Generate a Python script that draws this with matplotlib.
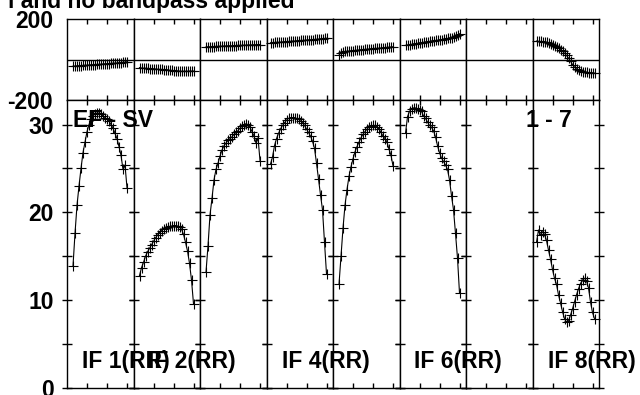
import matplotlib
matplotlib.use("Agg")
import matplotlib.pyplot as plt
import numpy as np

plt.rcParams['font.family'] = ['Liberation Sans', 'DejaVu Sans']
plt.rcParams['font.weight'] = 'bold'

# ---------------- data ----------------
if_names = ["IF 1(RR)", "IF 2(RR)", "IF 3(RR)", "IF 4(RR)",
            "IF 5(RR)", "IF 6(RR)", "IF 7(RR)", "IF 8(RR)"]
shown_labels = [0, 1, 3, 5, 7]
baseline_label = "EF - SV"
stokes_label = "1 - 7"
title_text = "l and no bandpass applied"

ch_if1 = list(range(3, 31))
amp_if1 = [13.9, 17.6, 20.8, 23.0, 25.0, 26.8, 28.0, 29.2, 30.0, 30.6, 31.0, 31.2, 31.3, 31.3,
           31.2, 31.0, 30.8, 30.6, 30.4, 30.0, 29.6, 29.0, 28.4, 27.5, 26.5, 24.9, 25.4, 22.8]
ph_if1 = [-33, -32, -31, -31, -30, -29, -28, -28, -27, -26, -26, -25, -24, -24,
          -23, -22, -21, -21, -20, -19, -18, -18, -17, -16, -15, -14, -13, -11]

ch_if2 = list(range(3, 31))
amp_if2 = [12.8, 13.7, 14.3, 15.0, 15.5, 15.9, 16.3, 16.7, 17.1, 17.4, 17.7, 17.9, 18.1, 18.2,
           18.3, 18.4, 18.45, 18.5, 18.5, 18.45, 18.3, 18.1, 17.5, 16.6, 15.6, 14.2, 12.3, 9.6]
ph_if2 = [-40, -42, -43, -43, -44, -45, -46, -46, -47, -48, -49, -49, -50, -51,
          -52, -53, -54, -55, -56, -57, -57, -58, -58, -58, -58, -57, -57, -57]

ch_if3 = list(range(3, 31))
amp_if3 = [13.2, 16.2, 19.7, 21.6, 23.7, 24.9, 25.6, 26.4, 27.1, 27.6, 27.9, 28.2, 28.4, 28.6,
           28.9, 29.1, 29.3, 29.6, 29.8, 30.0, 30.1, 30.0, 29.7, 29.2, 28.7, 27.9, 28.5, 25.9]
ph_if3 = [62, 63, 63, 64, 64, 65, 65, 66, 66, 67, 67, 68, 68, 68,
          69, 69, 70, 70, 70, 71, 71, 72, 72, 72, 73, 73, 74, 74]

ch_if4 = list(range(2, 31))
amp_if4 = [25.5, 26.3, 27.6, 28.4, 29.0, 29.5, 29.9, 30.2, 30.5, 30.7, 30.8, 30.8, 30.8, 30.7,
           30.6, 30.4, 30.2, 29.9, 29.5, 29.1, 28.7, 28.1, 27.3, 25.6, 23.8, 22.0, 20.3, 16.6, 13.0]
ph_if4 = [82, 83, 84, 85, 85, 86, 87, 88, 88, 89, 90, 91, 91, 92, 93,
          94, 94, 95, 96, 97, 97, 98, 99, 100, 101, 102, 103, 104, 105]

ch_if5 = list(range(3, 31))
amp_if5 = [11.8, 15.0, 18.2, 20.8, 22.6, 24.1, 25.2, 26.1, 26.9, 27.5, 28.0, 28.5, 28.9, 29.2,
           29.5, 29.7, 29.8, 29.9, 29.9, 29.7, 29.5, 29.1, 28.7, 28.4, 28.0, 27.2, 26.5, 25.3]
ph_if5 = [22, 32, 38, 40, 41, 42, 43, 44, 45, 46, 47, 48, 49, 50,
          51, 52, 53, 54, 55, 55, 56, 57, 58, 59, 60, 61, 62, 63]

ch_if6 = list(range(3, 31))
amp_if6 = [29.0, 30.9, 31.5, 31.8, 31.9, 31.9, 31.8, 31.7, 31.5, 31.0, 30.7, 30.3, 29.9, 29.7,
           29.3, 28.6, 27.6, 26.8, 26.2, 25.8, 25.4, 24.9, 23.7, 21.9, 20.3, 17.6, 14.8, 10.8]
ph_if6 = [70, 71, 73, 75, 77, 78, 80, 82, 83, 85, 86, 88, 89, 91,
          92, 94, 95, 97, 98, 100, 102, 104, 106, 108, 111, 115, 120, 127]

ch_if7 = []
amp_if7 = []
ph_if7 = []

ch_if8 = list(range(2, 32))
amp_if8 = [16.6, 18.0, 17.4, 17.8, 17.5, 16.8, 15.7, 14.7, 13.5, 12.5, 11.8, 10.6, 9.7, 8.7, 7.9,
           7.5, 7.6, 8.3, 9.0, 9.8, 10.6, 11.3, 11.9, 12.3, 12.5, 12.2, 11.4, 9.8, 8.6, 7.9]
ph_if8 = [91, 90, 89, 88, 86, 84, 81, 78, 74, 69, 63, 56, 48, 40, 31,
          20, 7, -8, -25, -38, -47, -53, -57, -60, -62, -64, -65, -66, -66, -67]

channels = [ch_if1, ch_if2, ch_if3, ch_if4, ch_if5, ch_if6, ch_if7, ch_if8]
amps = [amp_if1, amp_if2, amp_if3, amp_if4, amp_if5, amp_if6, amp_if7, amp_if8]
phases = [ph_if1, ph_if2, ph_if3, ph_if4, ph_if5, ph_if6, ph_if7, ph_if8]

amp_ticks = [0, 5, 10, 15, 20, 25, 30]
amp_ticklabels = ["0", "", "10", "", "20", "", "30"]
phase_ticks = [-200, 200]
phase_ticklabels = ["-200", "200"]
chan_ticks = [10, 20, 30]

# ---------------- figure ----------------
W, H = 640, 395
fig = plt.figure(figsize=(W / 100, H / 100), dpi=100)
L, R, T, B = 67, 599, 19, 388
gs = fig.add_gridspec(2, 8, left=L / W, right=R / W, top=1 - T / H, bottom=1 - B / H,
                      wspace=0, hspace=0, height_ratios=[81, 288])

XMIN, XMAX = 0, 33.25
for i in range(8):
    axp = fig.add_subplot(gs[0, i])
    axa = fig.add_subplot(gs[1, i])
    for ax in (axp, axa):
        ax.set_xlim(XMIN, XMAX)
        ax.set_xticks(chan_ticks)
        ax.set_xticklabels([])
        for s in ax.spines.values():
            s.set_linewidth(1.0)
            s.set_color('black')
    axp.set_ylim(-200, 200)
    axa.set_ylim(0, 32.8)
    axp.axhline(0, color='black', lw=1.0)

    axp.tick_params(axis='x', which='both', top=True, bottom=True, direction='in',
                    length=3.5, width=1)
    axa.tick_params(axis='x', which='both', top=True, bottom=True, direction='in',
                    length=3.5, width=1)
    axa.tick_params(axis='y', left=True, right=True, direction='inout', length=7, width=1)
    axa.set_yticks(amp_ticks)
    axp.set_yticks(phase_ticks)
    axp.tick_params(axis='y', left=False, right=False, length=0)
    if i == 0:
        axa.set_yticklabels(amp_ticklabels, fontsize=16.5, fontweight='bold')
        axa.tick_params(axis='y', pad=6)
        axp.set_yticklabels(phase_ticklabels, fontsize=16.5, fontweight='bold')
        axp.tick_params(axis='y', pad=10)
    else:
        axa.set_yticklabels([])
        axp.set_yticklabels([])

    if channels[i]:
        axa.plot(channels[i], amps[i], color='black', lw=0.8, marker='+',
                 markersize=6.5, markeredgewidth=0.8, clip_on=False)
        axp.plot(channels[i], phases[i], color='black', lw=0.8, marker='+',
                 markersize=6.5, markeredgewidth=0.8, clip_on=False)

# ---------------- text ----------------
def px(x, y):
    return x / W, 1 - y / H

panel_w = (R - L) / 8
for i in shown_labels:
    fig.text(*px(L + i * panel_w + 15, 368), if_names[i], fontsize=16.5,
             fontweight='bold', ha='left', va='baseline')

fig.text(*px(73, 127), baseline_label, fontsize=16.5, fontweight='bold',
         ha='left', va='baseline')
fig.text(*px(526, 127), stokes_label, fontsize=16.5, fontweight='bold',
         ha='left', va='baseline')
fig.text(*px(295, 8), title_text, fontsize=16.5, fontweight='bold',
         ha='right', va='baseline')

fig.savefig("out.png", dpi=100)
